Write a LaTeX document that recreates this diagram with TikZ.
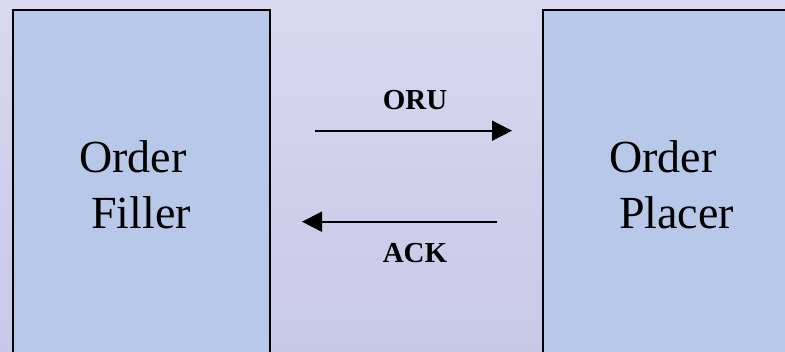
\documentclass[tikz,border=0pt]{standalone}
\usepackage{fontspec}
\setmainfont{Liberation Serif}
\usetikzlibrary{arrows.meta}
\definecolor{bgtop}{HTML}{D8D8F0}
\definecolor{bgbot}{HTML}{C8C8E8}
\definecolor{boxfill}{HTML}{B8C8E8}
\tikzset{
  sysbox/.style={draw=black, line width=2pt, fill=boxfill},
  bigtext/.style={inner sep=0pt, anchor=base west, font=\fontsize{46}{56}\selectfont},
  msglabel/.style={inner sep=0pt, anchor=base, font=\fontsize{29}{34}\selectfont\bfseries},
  msgarrow/.style={line width=1.8pt, -{Triangle[length=20pt,width=20pt]}}
}
\begin{document}
\begin{tikzpicture}[x=1pt,y=-1pt]
\useasboundingbox (0,0) rectangle (785,351);
\clip (0,0) rectangle (785,351);
\shade[top color=bgtop, bottom color=bgbot] (0,0) rectangle (785,351);
\draw[sysbox] (12.5,10) rectangle (270,362);
\draw[sysbox] (542.7,10) rectangle (800,362);
\node[bigtext] (f1) at (79,172) {Order};
\node[bigtext] (f2) at (91,228) {Filler};
\node[bigtext] (p1) at (609,172) {Order};
\node[bigtext] (p2) at (619,228) {Placer};
\node[msglabel] (oru) at (415,109) {ORU};
\node[msglabel] (ack) at (415,262) {ACK};
\coordinate (oruS) at (315,130.7);
\coordinate (oruE) at (512,130.7);
\coordinate (ackS) at (497,221.7);
\coordinate (ackE) at (302,221.7);
\draw[msgarrow] (oruS) -- (oruE);
\draw[msgarrow] (ackS) -- (ackE);
\end{tikzpicture}
\end{document}
